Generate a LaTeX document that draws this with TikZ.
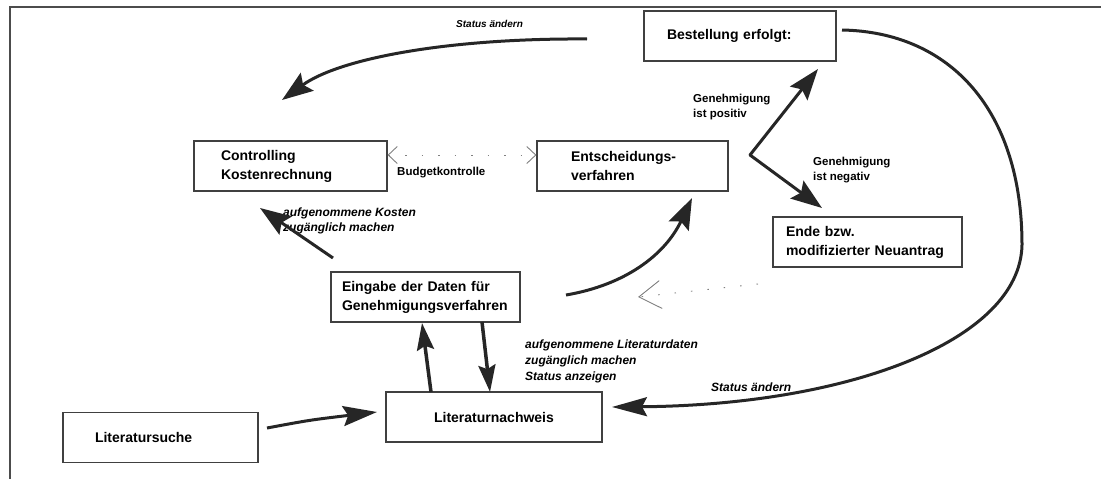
\documentclass[tikz,border=0pt]{standalone}
\usepackage{fontspec}
\setmainfont{Liberation Sans}
\usetikzlibrary{arrows.meta}

\begin{document}
\begin{tikzpicture}[x=1pt,y=-1pt,
    kasten/.style={rectangle,draw=black!75,line width=1.2pt,minimum height=50pt,align=left,font=\bfseries\fontsize{14}{19}\selectfont},
    schild/.style={anchor=west,inner sep=0pt,align=left,font=\bfseries\fontsize{11.5}{15}\selectfont},
    notiz/.style={anchor=west,inner sep=0pt,align=left,font=\bfseries\itshape\fontsize{12}{15}\selectfont},
    pfeil/.style={draw=black!85,line width=3pt,-{Stealth[length=31pt,width=22pt,inset=5pt]}},
    punkt/.style={draw=black!50,line width=0.9pt,dash pattern=on 1.5pt off 15pt}]
    \useasboundingbox (0,0) rectangle (1101,479);
    \draw[black!70,line width=1.5pt] (1101,7) -- (10,7) -- (10,479);
    %\centering
    \node[kasten,text width=146pt,inner xsep=23pt] at (740,36) (1) {Bestellung erfolgt:};
    \node[kasten,text width=139pt,inner xsep=27pt] at (290.5,166) (2) {Controlling\\Kostenrechnung};
    \node[kasten,text width=123pt,inner xsep=34pt] at (632.5,166) (3) {Entscheidungs-\\verfahren};
    \node[kasten,text width=163pt,inner xsep=13pt] at (867.5,242) (4) {Ende bzw.\\modifizierter Neuantrag};
    \node[kasten,text width=167pt,inner xsep=11pt] at (425.5,297) (5) {Eingabe der Daten für\\Genehmigungsverfahren};
    \node[kasten,minimum width=216pt,align=center] at (494,417) (6) {Literaturnachweis};
    \node[kasten,text width=131pt,inner xsep=32pt] at (160.5,437.5) (7) {Literatursuche};
    \node[notiz,font=\bfseries\itshape\fontsize{10}{12}\selectfont] at (456,24) (8) {Status ändern};
    \node[schild] at (397,173) (9) {Budgetkontrolle};
    \node[notiz] at (283,220.5) (10) {aufgenommene Kosten\\zugänglich machen};
    \node[schild] at (693,107.5) (11) {Genehmigung\\ist positiv};
    \node[schild] at (813,170.5) (12) {Genehmigung\\ist negativ};
    \node[notiz,font=\bfseries\itshape\fontsize{12}{16}\selectfont] at (525,361) (13) {aufgenommene Literaturdaten\\zugänglich machen\\Status anzeigen};
    \node[notiz] at (711,387) (14) {Status ändern};
    % end points of the arrows
    \coordinate (a1) at (587,39);
    \coordinate (a2) at (282,100);
    \coordinate (b1) at (333,258);
    \coordinate (b2) at (260,208);
    \coordinate (c1) at (566,295);
    \coordinate (c2) at (692,198);
    \coordinate (v) at (750,155);
    \coordinate (v1) at (818,69);
    \coordinate (v2) at (822,208);
    \coordinate (d1) at (842,30);
    \coordinate (d2) at (612,407);
    \coordinate (e1) at (758,284);
    \coordinate (e2) at (638,297);
    \coordinate (f1) at (431,392);
    \coordinate (f2) at (422,323);
    \coordinate (g1) at (482,322);
    \coordinate (g2) at (490,392);
    \coordinate (h1) at (267,428);
    \coordinate (h2) at (377,412);
    \draw[pfeil] (a1) .. controls (450,38) and (340,58) .. (a2);
    \draw[pfeil] (b1) -- (b2);
    \draw[pfeil] (c1) .. controls (625,285) and (665,255) .. (c2);
    \draw[pfeil,line cap=round] (v) -- (v1);
    \draw[pfeil,line cap=round] (v) -- (v2);
    \draw[pfeil,-{Stealth[length=35pt,width=19pt,inset=5pt]}] (d1) .. controls (950,32) and (1022,110) .. (1022,245) .. controls (1020,340) and (850,405) .. (d2);
    \draw[pfeil,line width=3.5pt,-{Stealth[length=27pt,width=17pt,inset=4pt]}] (f1) -- (f2);
    \draw[pfeil,line width=3.5pt,-{Stealth[length=27pt,width=17pt,inset=4pt]}] (g1) -- (g2);
    \draw[pfeil,-{Stealth[length=34pt,width=20pt,inset=5pt]}] (h1) .. controls (310,420) .. (h2);
    \draw[punkt,{Straight Barb[length=9pt,width=17pt]}-{Straight Barb[length=9pt,width=17pt]}] ([yshift=11pt]2.east) -- ([yshift=11pt]3.west);
    \draw[punkt,-{Straight Barb[length=22pt,width=28pt]}] (e1) -- (e2);
\end{tikzpicture}
\end{document}
